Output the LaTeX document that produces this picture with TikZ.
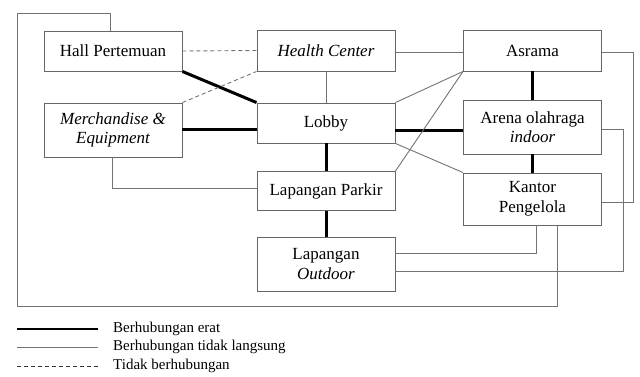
\documentclass[tikz,border=0pt]{standalone}
\usepackage{fontspec}
\setmainfont{Liberation Serif}
\newfontfamily\planfont{Liberation Serif}
\usepackage{xcolor}
\usepackage{tikz}
\usetikzlibrary{positioning, calc}

\begin{document}
\begin{tikzpicture}[
    x=1pt, y=-1pt,
    room/.style={rectangle, draw=black!60, line width=0.9pt, fill=white,
                 minimum width=138pt, minimum height=#1, align=center,
                 font=\planfont\fontsize{17}{19.5}\selectfont, inner sep=2pt},
    room/.default={40pt},
    erat/.style={line width=3pt, black},
    tidaklangsung/.style={line width=0.9pt, black!55},
    tidak/.style={line width=0.9pt, black!55, dash pattern=on 4pt off 3pt},
    lbl/.style={font=\planfont\fontsize{15}{16}\selectfont, anchor=west, inner sep=0pt}
]
\useasboundingbox (0,0) rectangle (640,376);

% --- Rooms, left column ---
\node[room] (hall) at (113,51) {Hall Pertemuan};
\node[room=54pt] (merch) at (113,130) {\itshape Merchandise \&\\\itshape Equipment};

% --- Rooms, middle column ---
\node[room=41pt] (health) at (326,50.5) {\itshape Health Center};
\node[room] (lobby) at (326,123) {Lobby};
\node[room=39pt] (parkir) at (326,191) {Lapangan Parkir};
\node[room=54pt] (outdoor) at (326,264) {Lapangan\\\itshape Outdoor};

% --- Rooms, right column ---
\node[room=41pt] (asrama) at (532.5,50.5) {Asrama};
\node[room=54pt] (arena) at (532.5,127) {Arena olahraga\\\itshape indoor};
\node[room=52pt] (kantor) at (532.5,199) {Kantor\\Pengelola};

% --- Frame corners ---
\coordinate (frametl) at (17,13);
\coordinate (framebl) at (17,306);

% --- Berhubungan erat ---
\draw[erat] (hall.south east) -- (lobby.north west);
\draw[erat] ([yshift=1pt]merch.east) -- ([yshift=1pt]merch.east -| lobby.west);
\draw[erat] ([yshift=-3pt]arena.west -| lobby.east) -- ([yshift=-3pt]arena.west);
\draw[erat] (lobby) -- (parkir);
\draw[erat] (parkir) -- (outdoor);
\draw[erat] (asrama) -- (arena);
\draw[erat] (arena) -- (kantor);

% --- Berhubungan tidak langsung ---
\draw[tidaklangsung] ([yshift=-1.5pt]health.east) -- ([yshift=-1.5pt]asrama.west);
\draw[tidaklangsung] (health) -- (lobby);
\draw[tidaklangsung] (lobby.north east) -- (asrama.south west);
\draw[tidaklangsung] (parkir.north east) -- (asrama.south west);
\draw[tidaklangsung] (lobby.south east) -- (kantor.north west);
\draw[tidaklangsung] ([xshift=-1pt]merch.south) |- ([yshift=3pt]parkir.west);
\draw[tidaklangsung] ([yshift=-1.5pt]asrama.east) -- ++(31,0) |- ([yshift=-3pt]kantor.east);
\draw[tidaklangsung] ([yshift=-2pt]arena.east) -- ++(21,0) |- ([yshift=-7pt]outdoor.east);
\draw[tidaklangsung] ([yshift=11pt]outdoor.east) -| ([xshift=3.5pt]kantor.south);
\draw[tidaklangsung] ([xshift=-3pt]hall.north) |- (frametl) -- (framebl)
    -| ([xshift=24.5pt]kantor.south);

% --- Tidak berhubungan ---
\draw[tidak] (hall.east) -- (health.west);
\draw[tidak] (merch.north east) -- (health.south west);

% --- Legend ---
\coordinate (leg1a) at (17,329);
\coordinate (leg1b) at (98,329);
\coordinate (leg2a) at (17,347);
\coordinate (leg2b) at (98,347);
\coordinate (leg3a) at (17,366);
\coordinate (leg3b) at (98,366);
\draw[erat, line width=2.5pt] (leg1a) -- (leg1b);
\draw[tidaklangsung] (leg2a) -- (leg2b);
\draw[tidak, black!80] (leg3a) -- (leg3b);
\node[lbl, right=15pt of leg1b] (lbl1) {Berhubungan erat};
\node[lbl, right=15pt of leg2b] (lbl2) {Berhubungan tidak langsung};
\node[lbl, right=15pt of leg3b] (lbl3) {Tidak berhubungan};

\end{tikzpicture}
\end{document}
